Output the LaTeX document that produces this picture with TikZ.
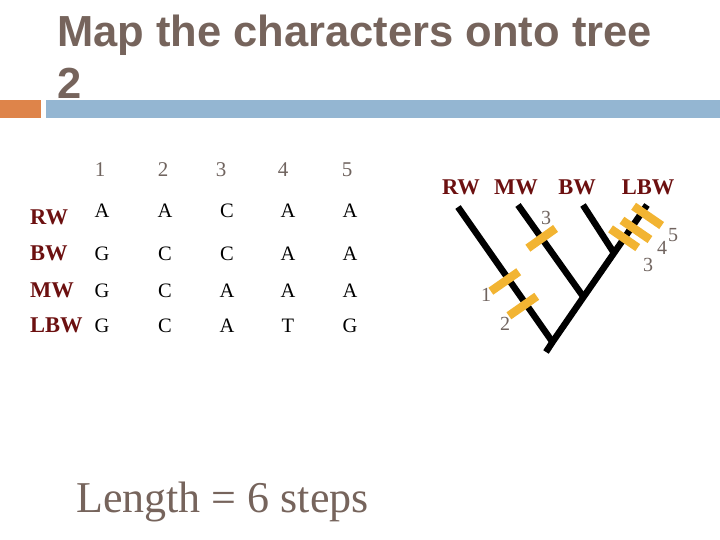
\documentclass[tikz,border=0pt]{standalone}
\usepackage{fontspec}
\setmainfont{Liberation Serif}
\newfontfamily\titlefont{Liberation Sans}
\usetikzlibrary{calc}
\definecolor{titlegray}{RGB}{118,100,92}
\definecolor{numgray}{RGB}{112,100,95}
\definecolor{maroon}{RGB}{108,16,16}
\definecolor{barorange}{RGB}{222,132,74}
\definecolor{barblue}{RGB}{148,182,210}
\definecolor{markorange}{RGB}{242,180,50}
\tikzset{
  titletext/.style={anchor=base west, inner sep=0pt, text=titlegray, font=\titlefont\bfseries\fontsize{43.5}{43.5}\selectfont},
  hdr/.style={anchor=base, inner sep=0pt, text=numgray, font=\fontsize{21}{21}\selectfont},
  taxon/.style={anchor=base west, inner sep=0pt, text=maroon, font=\bfseries\fontsize{22.5}{22.5}\selectfont},
  treetaxon/.style={anchor=base, inner sep=0pt, text=maroon, font=\bfseries\fontsize{22.5}{22.5}\selectfont},
  base/.style={anchor=base, inner sep=0pt, text=black, font=\fontsize{20.5}{20.5}\selectfont},
  marknum/.style={inner sep=0pt, text=numgray, font=\fontsize{20}{20}\selectfont},
  branch/.style={line width=6.5pt, black},
  charmark/.style={line width=8.5pt, markorange},
}
\begin{document}
\begin{tikzpicture}[x=1pt,y=-1pt]
\useasboundingbox (0,0) rectangle (720,540);
% title
\node[titletext] (title1) at (57,47) {Map the characters onto tree};
\node[titletext] (title2) at (57,99) {2};
\fill[barorange] (0,100) rectangle (41,118);
\fill[barblue] (46,100) rectangle (720,118);
% table header
\foreach \i/\x in {1/100,2/163,3/221,4/283,5/347}
  \node[hdr] (h\i) at (\x,177) {\i};
% row labels
\node[taxon] (lrw)  at (30,225) {RW};
\node[taxon] (lbw)  at (30,260) {BW};
\node[taxon] (lmw)  at (30,297) {MW};
\node[taxon] (llbw) at (30,332) {LBW};
% characters
\foreach \c [count=\i] in {A,A,C,A,A}{
  \pgfmathsetmacro\xx{{102,165,227,288,350}[\i-1]}
  \node[base] (r1c\i) at (\xx,218) {\c};}
\foreach \c [count=\i] in {G,C,C,A,A}{
  \pgfmathsetmacro\xx{{102,165,227,288,350}[\i-1]}
  \node[base] (r2c\i) at (\xx,260) {\c};}
\foreach \c [count=\i] in {G,C,A,A,A}{
  \pgfmathsetmacro\xx{{102,165,227,288,350}[\i-1]}
  \node[base] (r3c\i) at (\xx,297) {\c};}
\foreach \c [count=\i] in {G,C,A,T,G}{
  \pgfmathsetmacro\xx{{102,165,227,288,350}[\i-1]}
  \node[base] (r4c\i) at (\xx,332) {\c};}
% length
\node[anchor=base west, inner sep=0pt, text=titlegray, font=\fontsize{44}{44}\selectfont] (len) at (76,512) {Length = 6 steps};
% tree labels
\node[treetaxon] (trw)  at (461,195) {RW};
\node[treetaxon] (tmw)  at (516,195) {MW};
\node[treetaxon] (tbw)  at (577,195) {BW};
\node[treetaxon] (tlbw) at (648,195) {LBW};
% tree
\coordinate (rw)   at (458,207);
\coordinate (mw)   at (518,205);
\coordinate (bw)   at (583,205);
\coordinate (lbwt) at (647,205);
\coordinate (root) at (552.5,342);
\coordinate (j1)   at (583.5,297);
\coordinate (j2)   at (614,253);
\coordinate (stub) at (546,352);
\draw[branch] (rw) -- (root);
\draw[branch] (mw) -- (j1);
\draw[branch] (bw) -- (j2);
\draw[branch] (stub) -- (root) -- (j1) -- (j2) -- (lbwt);
% character changes
\coordinate (c1) at ($(rw)!0.533!(root)$);
\coordinate (c2) at ($(rw)!0.718!(root)$);
\coordinate (c3) at ($(mw)!0.362!(j1)$);
\coordinate (c4) at ($(j2)!0.307!(lbwt)$);
\coordinate (c5) at ($(j2)!0.54!(lbwt)$);
\coordinate (c6) at ($(j2)!0.852!(lbwt)$);
\draw[charmark] ($(c1)!12.6pt!90:(root)$) -- ($(c1)!21.4pt!-90:(root)$);
\draw[charmark] ($(c2)!13.3pt!90:(root)$) -- ($(c2)!20.7pt!-90:(root)$);
\draw[charmark] ($(c3)!17pt!90:(j1)$) -- ($(c3)!17pt!-90:(j1)$);
\draw[charmark] ($(c4)!16.5pt!90:(lbwt)$) -- ($(c4)!16.5pt!-90:(lbwt)$);
\draw[charmark] ($(c5)!12pt!90:(lbwt)$) -- ($(c5)!22pt!-90:(lbwt)$);
\draw[charmark] ($(c6)!10.3pt!90:(lbwt)$) -- ($(c6)!23.7pt!-90:(lbwt)$);
% numbers
\node[marknum] (n1) at (486,295) {1};
\node[marknum] (n2) at (505,324) {2};
\node[marknum] (n3) at (546,218) {3};
\node[marknum] (n4) at (648,265) {3};
\node[marknum] (n5) at (662,248) {4};
\node[marknum] (n6) at (673,235) {5};
\end{tikzpicture}
\end{document}
